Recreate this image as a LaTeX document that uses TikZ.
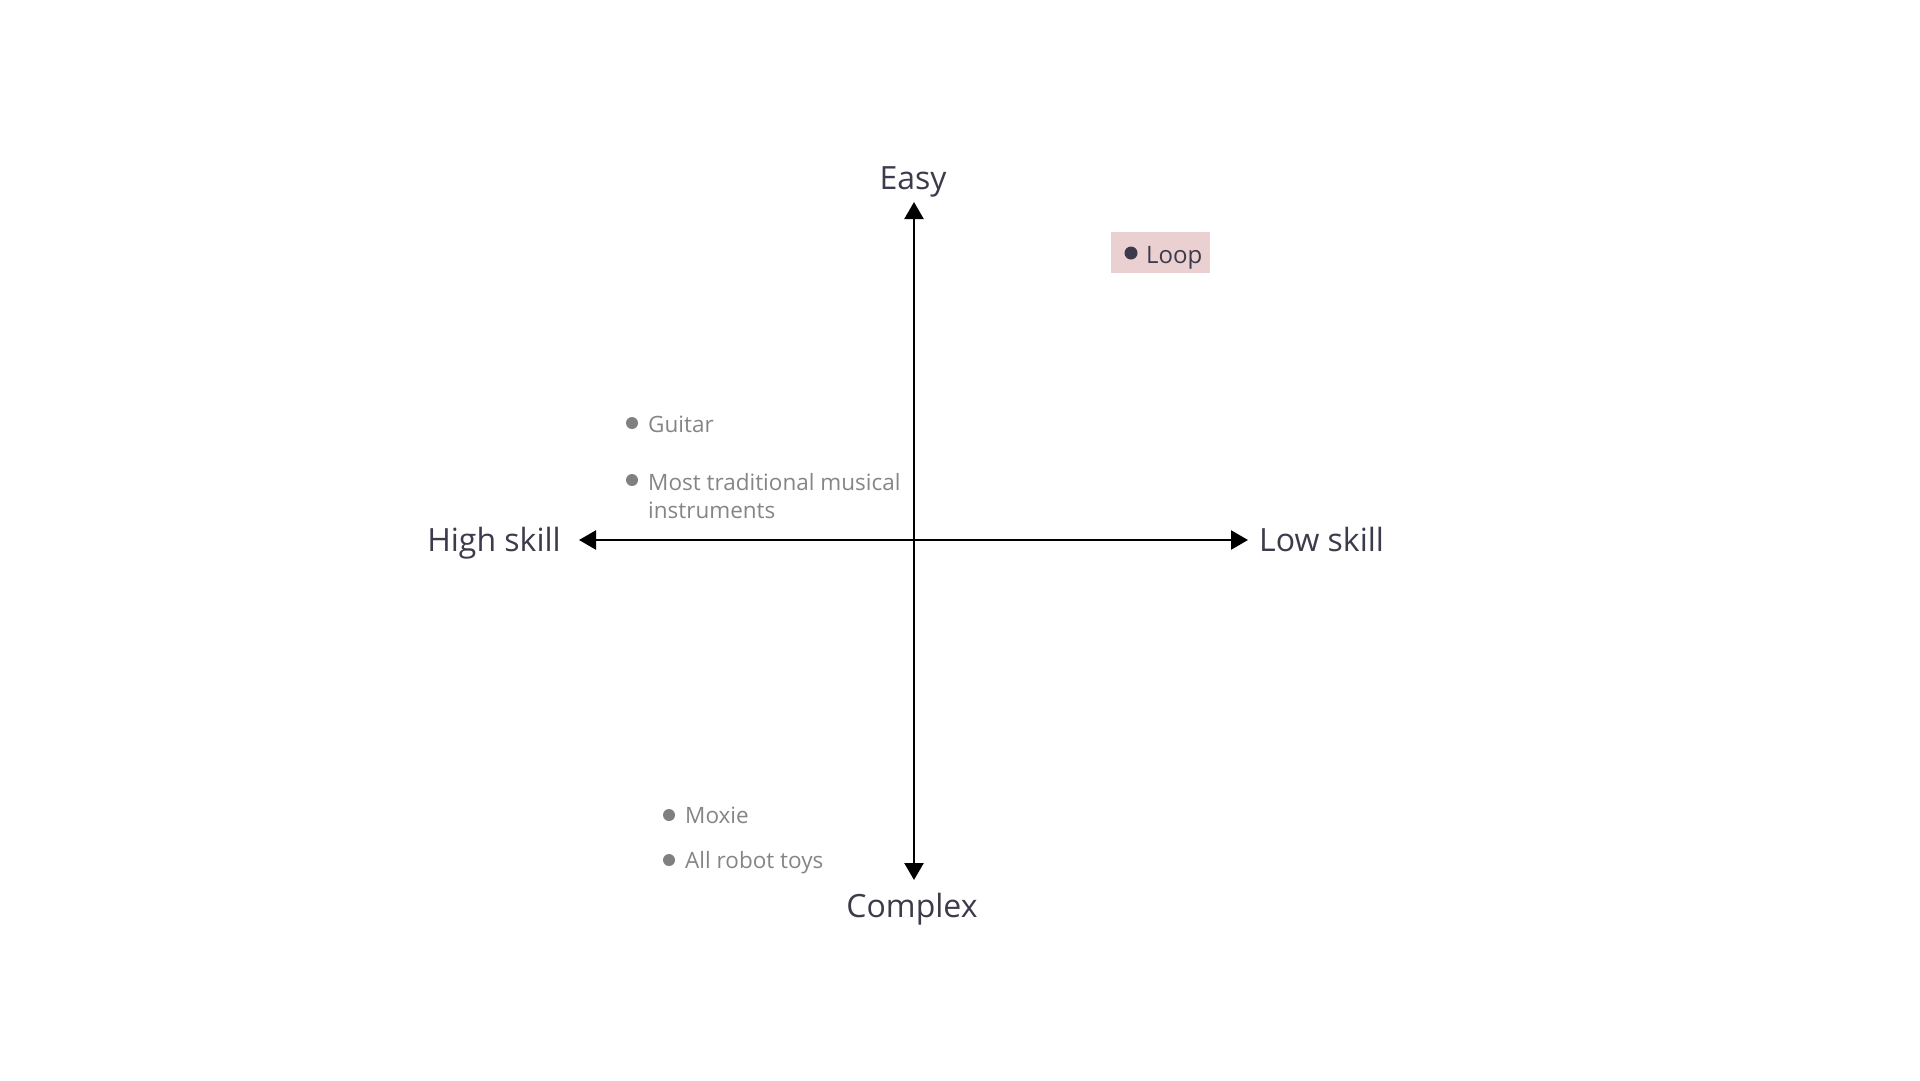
\documentclass[tikz,border=0pt]{standalone}
\usepackage{fontspec}
\setmainfont{Open Sans}
\usetikzlibrary{arrows.meta}
\definecolor{ink}{HTML}{3B3B4B}
\definecolor{soft}{HTML}{858585}
\definecolor{dotgrey}{HTML}{808080}
\definecolor{pinkbg}{HTML}{EBD0D2}
\tikzset{
  axis/.style={line width=2.4pt, -{Triangle[width=19pt,length=17pt]}},
  biglabel/.style={inner sep=0pt, text=ink, font=\fontsize{32}{40}\selectfont},
  item/.style={inner sep=0pt, anchor=base west, text=soft, font=\fontsize{22.5}{29}\selectfont},
  dot/.style={circle, fill=dotgrey, inner sep=0pt, minimum size=12pt},
}
\begin{document}
\begin{tikzpicture}[x=1pt,y=-1pt]
\useasboundingbox (0,0) rectangle (1920,1080);
\coordinate (o) at (914,540);
\coordinate (top) at (914,202);
\coordinate (bot) at (914,880);
\coordinate (lft) at (579,540);
\coordinate (rgt) at (1248,540);
\draw[axis] (o) -- (top);
\draw[axis] (o) -- (bot);
\draw[axis] (o) -- (lft);
\draw[axis] (o) -- (rgt);
\node[biglabel, anchor=base] (easy) at (913,189) {Easy};
\node[biglabel, anchor=base] (complex) at (912,917) {Complex};
\node[biglabel, anchor=base east] (high) at (561,551) {High skill};
\node[biglabel, anchor=base west] (low) at (1259,551) {Low skill};
% Loop
\node[fill=pinkbg, minimum width=99pt, minimum height=41pt, inner sep=0pt] (loopbox) at (1160.5,252.5) {};
\node[circle, fill=ink, inner sep=0pt, minimum size=13pt] (loopdot) at (1131,253) {};
\node[inner sep=0pt, anchor=base west, text=ink, font=\fontsize{24}{30}\selectfont] (loop) at (1146,263) {Loop};
% grey items
\node[dot] (d1) at (632,423) {};
\node[item] (guitar) at (648,432) {Guitar};
\node[dot] (d2) at (632,480) {};
\node[item] (most) at (648,490) {Most traditional musical};
\node[item] (instr) at (648,518) {instruments};
\node[dot] (d3) at (669,815) {};
\node[item] (moxie) at (685,823) {Moxie};
\node[dot] (d4) at (669,860) {};
\node[item] (robot) at (685,868) {All robot toys};
\end{tikzpicture}
\end{document}
